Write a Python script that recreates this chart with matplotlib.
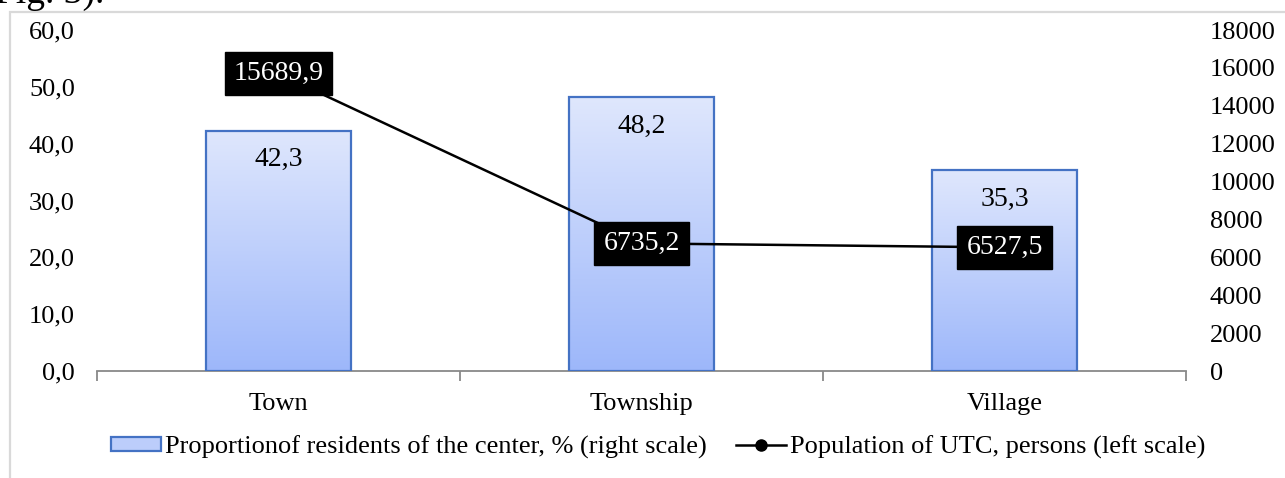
import numpy as np
import matplotlib
matplotlib.use("Agg")
import matplotlib.pyplot as plt
from matplotlib.patches import Rectangle, Patch
from matplotlib.lines import Line2D
from matplotlib.colors import LinearSegmentedColormap

categories = ["Town", "Township", "Village"]
share = [42.3, 48.2, 35.3]              # % residents of the center
population = [15689.9, 6735.2, 6527.5]  # persons

left_ticks = [0, 10, 20, 30, 40, 50, 60]
right_ticks = [0, 2000, 4000, 6000, 8000, 10000, 12000, 14000, 16000, 18000]


def comma(v):
    return f"{v:.1f}".replace(".", ",")


plt.rcParams["font.family"] = ["Liberation Serif", "DejaVu Serif"]

fig = plt.figure(figsize=(12.85, 4.78), dpi=100)
W, H = 1285, 478
ax = fig.add_axes([97 / W, 1 - 371 / H, (1186 - 97) / W, (371 - 30) / H])
ax2 = ax.twinx()

# outer chart frame + cut-off caption above
fig.patches.append(Rectangle((9.5 / W, -0.1), 2, 1.1 - 12.5 / H, transform=fig.transFigure,
                             fill=False, edgecolor="#d9d9d9", linewidth=1.6))
fig.text(-0.004, 1 - 3 / H, "Fig. 3).", fontsize=27, va="baseline", ha="left")

x = np.arange(len(categories))
bars = ax.bar(x, share, width=0.40, facecolor="none", edgecolor="#4472c4", linewidth=1.6, zorder=3)

cmap = LinearSegmentedColormap.from_list("g", ["#9db7fa", "#dfe7fd"])
grad = np.linspace(0, 1, 256).reshape(-1, 1)
for b in bars:
    im = ax.imshow(grad, cmap=cmap, origin="lower", aspect="auto", zorder=2,
                   extent=[b.get_x(), b.get_x() + b.get_width(), 0, b.get_height()])
    im.set_clip_path(b)
    ax.annotate(comma(b.get_height()), (b.get_x() + b.get_width() / 2, b.get_height()),
                xytext=(0, -21), textcoords="offset points", ha="center", va="center",
                fontsize=20, zorder=5)

ax.set_xlim(-0.5, 2.5)
ax.set_ylim(0, 60)
ax2.set_ylim(0, 18000)

ax2.plot(x, population, color="black", linewidth=1.8, marker="o", markersize=7, zorder=4)
for xi, v in zip(x, population):
    ax2.text(xi, v, comma(v), color="white", fontsize=20, ha="center", va="center", zorder=6,
             bbox=dict(boxstyle="square,pad=0.32", facecolor="black", edgecolor="black"))

ax.set_yticks(left_ticks)
ax.set_yticklabels([comma(t) for t in left_ticks])
ax2.set_yticks(right_ticks)
ax2.set_yticklabels([str(t) for t in right_ticks], ha="left")
ax.set_xticks(x)
ax.set_xticklabels(categories)
ax.set_xticks([-0.5, 0.5, 1.5, 2.5], minor=True)

ax.tick_params(axis="y", length=0, pad=16, labelsize=19)
ax2.tick_params(axis="y", length=0, pad=17, labelsize=19)
ax.tick_params(axis="x", which="major", length=0, pad=16, labelsize=19)
ax.tick_params(axis="x", which="minor", length=7, width=1.3, color="#898989")

for a in (ax, ax2):
    for s in ("top", "left", "right", "bottom"):
        a.spines[s].set_visible(False)
ax.spines["bottom"].set_visible(True)
ax.spines["bottom"].set_color("#898989")
ax.spines["bottom"].set_linewidth(1.3)
ax.patch.set_visible(False)
ax.set_zorder(ax2.get_zorder() - 1)
ax2.patch.set_visible(False)

handles = [Patch(facecolor="#bccdfb", edgecolor="#4472c4", linewidth=1.6),
           Line2D([], [], color="black", marker="o", markersize=8, linewidth=1.8)]
labels = ["Proportionof residents of the center, % (right scale)",
          "Population of UTC, persons (left scale)"]
fig.legend(handles, labels, loc="center", bbox_to_anchor=(658 / W, 1 - 447 / H), ncol=2,
           frameon=False, fontsize=19, handlelength=1.9, handleheight=0.4,
           handletextpad=0.15, columnspacing=1.1)

fig.savefig("out.png", dpi=100)
